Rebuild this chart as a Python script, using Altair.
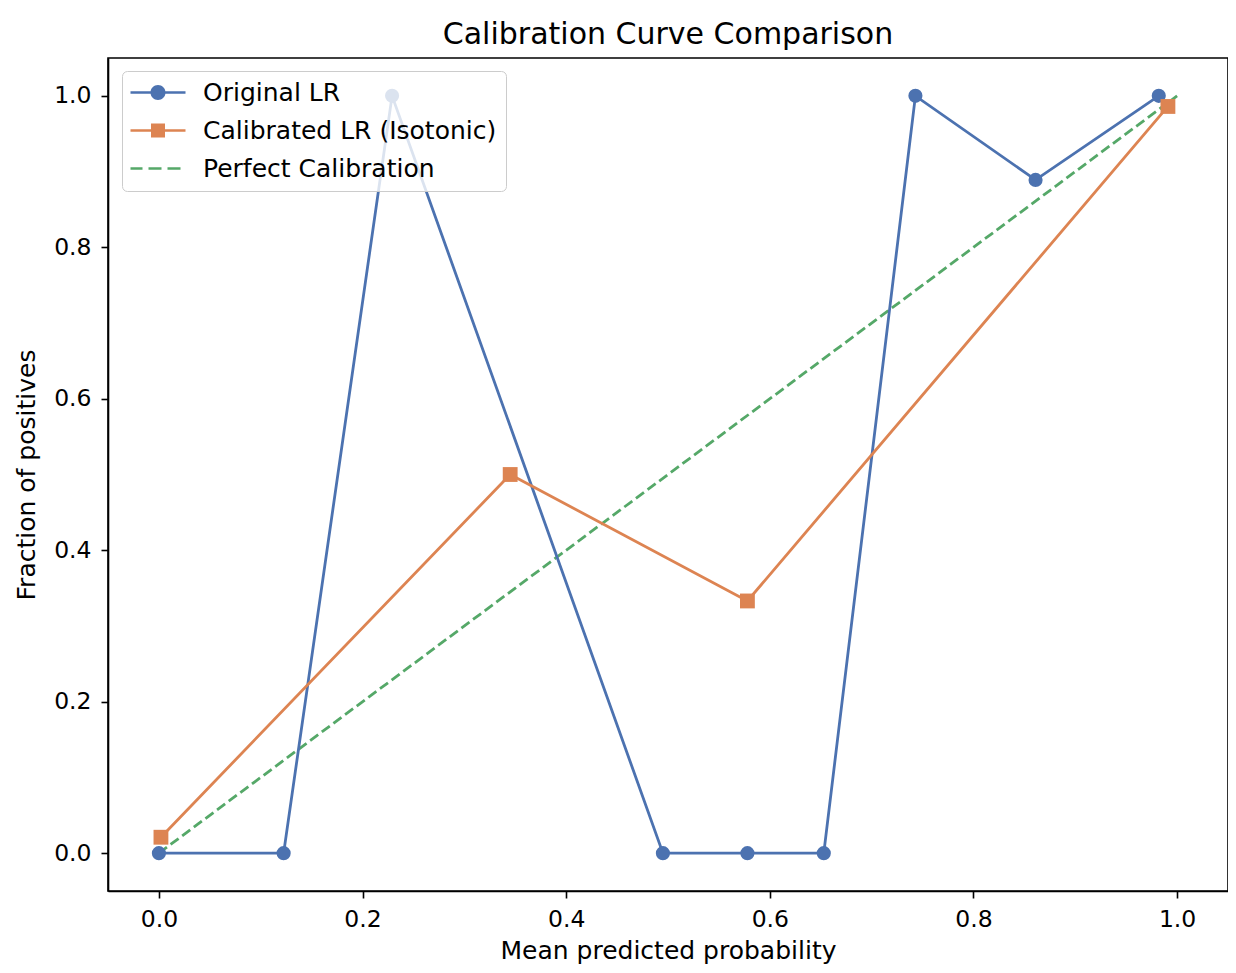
import altair as alt
import pandas as pd

# ---- data ----
orig_x = [0.0, 0.1225, 0.229, 0.495, 0.578, 0.653, 0.743, 0.861, 0.982]
orig_y = [0.0, 0.0, 1.0, 0.0, 0.0, 0.0, 1.0, 0.889, 1.0]
cal_x = [0.002, 0.345, 0.578, 0.991]
cal_y = [0.021, 0.5, 0.333, 0.986]
perf_x = [0.0, 1.0]
perf_y = [0.0, 1.0]
series_names = ["Original LR", "Calibrated LR (Isotonic)", "Perfect Calibration"]
series_colors = ["#4C72B0", "#DD8452", "#55A868"]
tick_vals = [0.0, 0.2, 0.4, 0.6, 0.8, 1.0]

orig_df = pd.DataFrame({"x": orig_x, "y": orig_y})
cal_df = pd.DataFrame({"x": cal_x, "y": cal_y})
perf_df = pd.DataFrame({"x": perf_x, "y": perf_y})
legend_df = pd.DataFrame({"series": series_names})

FONT = "DejaVu Sans"

xscale = alt.Scale(domain=[-0.05, 1.05], nice=False, zero=False)
yscale = alt.Scale(domain=[-0.05, 1.05], nice=False, zero=False)
xaxis = alt.Axis(values=tick_vals, format=".1f", title="Mean predicted probability",
                 labelPadding=9, titlePadding=8)
yaxis = alt.Axis(values=tick_vals, format=".1f", title="Fraction of positives",
                 labelPadding=10, titlePadding=14)

X = alt.X("x:Q", scale=xscale, axis=xaxis)
Y = alt.Y("y:Q", scale=yscale, axis=yaxis)

orig_line = alt.Chart(orig_df).mark_line(color=series_colors[0], strokeWidth=2.8).encode(x=X, y=Y)
orig_pts = alt.Chart(orig_df).mark_point(filled=True, shape="circle", size=200, opacity=1,
                                         color=series_colors[0]).encode(x=X, y=Y)
cal_line = alt.Chart(cal_df).mark_line(color=series_colors[1], strokeWidth=2.8).encode(x=X, y=Y)
cal_pts = alt.Chart(cal_df).mark_point(filled=True, shape="square", size=220, opacity=1,
                                       color=series_colors[1]).encode(x=X, y=Y)
perf_line = alt.Chart(perf_df).mark_line(color=series_colors[2], strokeWidth=2.8,
                                         strokeDash=[10, 4.5]).encode(x=X, y=Y)

# legend symbols: filled custom paths (line + marker); 1 unit = 10px
circle_path = ("M-1.3,-0.13H4.2V0.13H-1.3Z "
               "M0.7,0A0.75,0.75,0,1,1,2.2,0A0.75,0.75,0,1,1,0.7,0Z")
square_path = ("M-1.3,-0.13H4.2V0.13H-1.3Z "
               "M0.75,-0.7H2.15V0.7H0.75Z")
dash_path = ("M-1.3,-0.13H-0.1V0.13H-1.3Z "
             "M0.5,-0.13H1.8V0.13H0.5Z "
             "M2.4,-0.13H3.7V0.13H2.4Z")

legend_layer = alt.Chart(legend_df).mark_point(filled=True, opacity=1).encode(
    color=alt.Color("series:N", scale=alt.Scale(domain=series_names, range=series_colors),
                    legend=alt.Legend(
                        title=None, orient="none", legendX=14, legendY=13,
                        symbolSize=400, symbolStrokeWidth=0, symbolOpacity=1,
                        labelFontSize=25, labelFont=FONT, labelColor="#000000",
                        labelOffset=47, rowPadding=12, padding=9,
                        strokeColor="#cccccc", fillColor="rgba(255,255,255,0.8)",
                        cornerRadius=5, labelLimit=0)),
    shape=alt.Shape("series:N", scale=alt.Scale(domain=series_names,
                                                range=[circle_path, square_path, dash_path]),
                    legend=alt.Legend(title=None, orient="none", legendX=14, legendY=13)),
).transform_filter("false")

chart = alt.layer(perf_line, orig_line, cal_line, orig_pts, cal_pts, legend_layer).properties(
    width=1120,
    height=833,
    title=alt.TitleParams("Calibration Curve Comparison", fontSize=30, font=FONT,
                          fontWeight="normal", color="#000000", offset=8),
    autosize=alt.AutoSizeParams(type="none"),
    padding={"left": 100, "top": 50, "right": 0, "bottom": 74},
).configure_view(
    stroke="#000000", strokeWidth=1.6
).configure_axis(
    grid=False, domainColor="#000000", domainWidth=1.6, tickColor="#000000",
    tickWidth=1.6, tickSize=7, labelFontSize=23.5, labelFont=FONT, labelColor="#000000",
    titleFontSize=25, titleFont=FONT, titleFontWeight="normal",
    titleColor="#000000"
)

chart.save("out.html", embed_options={"renderer": "svg", "actions": False})
